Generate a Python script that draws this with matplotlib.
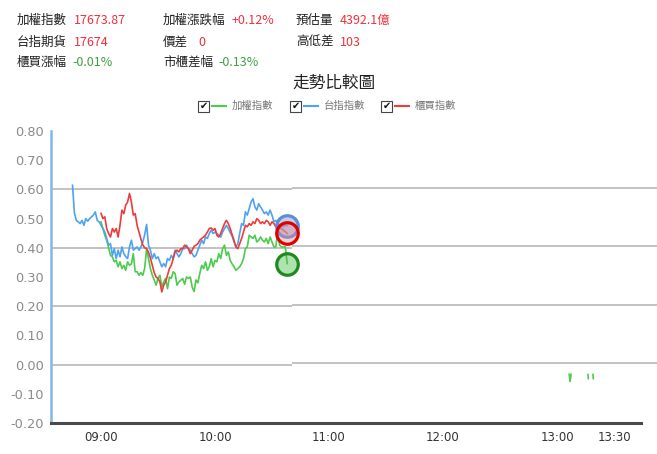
import numpy as np
import matplotlib
matplotlib.use("Agg")
import matplotlib.pyplot as plt
from matplotlib.lines import Line2D
from matplotlib.patches import Rectangle

plt.rcParams['font.family'] = ['Noto Sans CJK TC', 'DejaVu Sans']

# ---------------- data ----------------
header_names = ["加權指數", "加權漲跌幅", "預估量",
                "台指期貨", "價差", "高低差",
                "櫃買漲幅", "市櫃差幅"]
header_values = ["17673.87", "+0.12%", "4392.1億",
                 "17674", "0", "103",
                 "-0.01%", "-0.13%"]
header_value_kind = ["up", "up", "up", "up", "up", "up", "down", "down"]

title = "走勢比較圖"
legend_names = ["加權指數", "台指指數", "櫃買指數"]

xtick_labels = ["09:00", "10:00", "11:00", "12:00", "13:00", "13:30"]
ytick_values = [-0.2, -0.1, 0.0, 0.1, 0.2, 0.3, 0.4, 0.5, 0.6, 0.7, 0.8]

futures_start = "08:45"
futures_vals = [0.614, 0.52, 0.494, 0.489, 0.483, 0.494, 0.477, 0.500, 0.491, 0.500,
                0.506, 0.512, 0.523, 0.494, 0.489, 0.477, 0.466, 0.454, 0.432, 0.409,
                0.414, 0.374, 0.397, 0.363, 0.392, 0.369, 0.403, 0.380, 0.370, 0.363,
                0.403, 0.426, 0.392, 0.397, 0.403, 0.392, 0.403, 0.420, 0.445, 0.480,
                0.409, 0.392, 0.363, 0.380, 0.363, 0.369, 0.352, 0.335, 0.346, 0.335,
                0.363, 0.357, 0.374, 0.363, 0.392, 0.380, 0.369, 0.380, 0.397, 0.397,
                0.409, 0.397, 0.392, 0.380, 0.369, 0.374, 0.392, 0.409, 0.426, 0.414,
                0.437, 0.432, 0.449, 0.460, 0.449, 0.454, 0.449, 0.443, 0.437, 0.454,
                0.466, 0.477, 0.466, 0.452, 0.440, 0.420, 0.403, 0.414, 0.449, 0.483,
                0.477, 0.523, 0.512, 0.534, 0.557, 0.568, 0.540, 0.529, 0.551, 0.540,
                0.529, 0.517, 0.523, 0.512, 0.529, 0.512, 0.489, 0.494, 0.483, 0.466,
                0.477, 0.472, 0.477, 0.476]

otc_start = "09:00"
otc_vals = [0.518, 0.500, 0.506, 0.466, 0.449, 0.437, 0.466, 0.454, 0.466, 0.437,
            0.477, 0.529, 0.517, 0.546, 0.557, 0.586, 0.557, 0.512, 0.517, 0.477,
            0.454, 0.430, 0.410, 0.400, 0.397, 0.385, 0.365, 0.340, 0.315, 0.300,
            0.295, 0.283, 0.249, 0.272, 0.283, 0.306, 0.329, 0.340, 0.363, 0.386,
            0.392, 0.386, 0.397, 0.397, 0.409, 0.403, 0.397, 0.380, 0.392, 0.405,
            0.409, 0.414, 0.426, 0.432, 0.437, 0.443, 0.454, 0.466, 0.468, 0.460,
            0.466, 0.443, 0.437, 0.449, 0.466, 0.483, 0.494, 0.483, 0.466, 0.445,
            0.426, 0.403, 0.397, 0.414, 0.432, 0.454, 0.477, 0.472, 0.483, 0.477,
            0.489, 0.483, 0.500, 0.494, 0.483, 0.489, 0.483, 0.494, 0.489, 0.477,
            0.489, 0.483, 0.472, 0.466, 0.466, 0.466, 0.460, 0.455, 0.449]

twse_start = "09:00"
twse_vals = [0.489, 0.466, 0.443, 0.426, 0.400, 0.374, 0.369, 0.352, 0.357, 0.335,
             0.352, 0.329, 0.340, 0.323, 0.352, 0.340, 0.345, 0.380, 0.318, 0.318,
             0.306, 0.315, 0.306, 0.330, 0.397, 0.363, 0.329, 0.306, 0.290, 0.272,
             0.295, 0.306, 0.266, 0.283, 0.295, 0.260, 0.300, 0.295, 0.318, 0.312,
             0.272, 0.283, 0.289, 0.295, 0.275, 0.300, 0.295, 0.300, 0.265, 0.250,
             0.290, 0.280, 0.312, 0.340, 0.329, 0.352, 0.323, 0.335, 0.363, 0.335,
             0.357, 0.352, 0.380, 0.363, 0.397, 0.409, 0.374, 0.386, 0.357, 0.345,
             0.335, 0.323, 0.329, 0.335, 0.346, 0.363, 0.397, 0.403, 0.443, 0.437,
             0.432, 0.443, 0.420, 0.426, 0.437, 0.426, 0.420, 0.432, 0.414, 0.437,
             0.420, 0.403, 0.403, 0.454, 0.409, 0.403, 0.403, 0.403, 0.346]

# stray afternoon ticks of the TWSE line (minutes after 09:00, value)
twse_late_min = [246.4, 246.9, 247.4, np.nan, 256.3, 256.5, np.nan, 258.9, 259.1]
twse_late_vals = [-0.033, -0.058, -0.033, np.nan, -0.034, -0.048, np.nan, -0.034, -0.048]


def to_min(s):
    h, m = s.split(":")
    return (int(h) - 9) * 60 + int(m)


# ---------------- figure ----------------
W, H = 657, 454
fig = plt.figure(figsize=(W / 100, H / 100), dpi=100)
fig.patch.set_facecolor("white")


def fx(px):
    return px / W


def fy(py):
    return 1 - py / H


RED = "#f0303a"
GREEN = "#3f9e3f"
C_TWSE = "#4ccb4c"
C_FUT = "#4da3f0"
C_OTC = "#ee3b3b"

# header
name_pos = [(17, 20), (163, 20), (296, 20),
            (17, 42), (163, 42), (296, 42),
            (17, 62), (163, 62)]
value_pos = [(74, 20), (232, 20), (340, 20),
             (74, 42), (198, 42), (340, 42),
             (72, 62), (218, 62)]
for name, val, kind, (nx, ny), (vx, vy) in zip(header_names, header_values,
                                                header_value_kind, name_pos, value_pos):
    fig.text(fx(nx), fy(ny), name, ha="left", va="center", fontsize=9, color="#222222")
    fig.text(fx(vx), fy(vy), val, ha="left", va="center", fontsize=9,
             color=RED if kind == "up" else GREEN)

fig.text(fx(334), fy(83), title, ha="center", va="center", fontsize=12, color="#222222")

# legend
leg_colors = [C_TWSE, C_FUT, C_OTC]
box_x = [198, 290, 381]
ly = 106
for name, col, bx in zip(legend_names, leg_colors, box_x):
    fig.add_artist(Rectangle((fx(bx), fy(ly + 5.5)), fx(11), 11 / H,
                             transform=fig.transFigure, facecolor="white",
                             edgecolor="#444444", lw=0.8))
    fig.text(fx(bx + 5.5), fy(ly), "✔", ha="center", va="center", fontsize=7,
             color="#111111", family="DejaVu Sans")
    fig.add_artist(Line2D([fx(bx + 14), fx(bx + 28)], [fy(ly), fy(ly)],
                          transform=fig.transFigure, color=col, lw=1.5))
    fig.text(fx(bx + 34), fy(ly), name, ha="left", va="center", fontsize=7.5,
             color="#777777")

# axes
x_left_min = (51 - 101) * 60 / 114
x_right_min = (641 - 101) * 60 / 114
x_edge_min = (657 - 101) * 60 / 114
ax = fig.add_axes([fx(51), fy(423), fx(641 - 51), (423 - 131) / H])
ax.set_xlim(x_left_min, x_right_min)
ax.set_ylim(-0.2, 0.8)

# gridlines (slightly stepped after the last tick, as in the source)
step_min = (292 - 101) * 60 / 114
for gy in [0.0, 0.2, 0.4, 0.6]:
    ax.hlines(gy, x_left_min, step_min, color="#bdbdbd", lw=1.3, zorder=1)
    ax.hlines(gy + 0.0045, step_min, x_edge_min, color="#bdbdbd", lw=1.3,
              zorder=1, clip_on=False)

fut_x = to_min(futures_start) + np.arange(len(futures_vals))
otc_x = to_min(otc_start) + np.arange(len(otc_vals))
twse_x = to_min(twse_start) + np.arange(len(twse_vals))

ax.plot(twse_x, twse_vals, color=C_TWSE, lw=1.2, zorder=3)
ax.plot(fut_x, futures_vals, color=C_FUT, lw=1.2, zorder=3)
ax.plot(otc_x, otc_vals, color=C_OTC, lw=1.2, zorder=4)
ax.plot(twse_late_min, twse_late_vals, color=C_TWSE, lw=1.2, zorder=3)

# end markers
ax.plot(twse_x[-1], twse_vals[-1], "o", ms=15.5, mew=2.3,
        mec="#1f8a1f", mfc=(0.3, 0.75, 0.3, 0.45), zorder=5)
ax.plot(fut_x[-1], futures_vals[-1], "o", ms=15.5, mew=2.3,
        mec="#5b8ed8", mfc=(0.55, 0.62, 0.8, 0.5), zorder=5)
ax.plot(otc_x[-1], otc_vals[-1], "o", ms=15.5, mew=2.3,
        mec="#e00000", mfc=(0.9, 0.55, 0.6, 0.4), zorder=6)

# ticks
ax.set_xticks([to_min(t) for t in xtick_labels])
ax.set_xticklabels(xtick_labels, fontsize=8.5, color="#333333", family="DejaVu Sans")
ax.set_yticks(ytick_values)
ax.set_yticklabels([f"{v:.2f}" for v in ytick_values], fontsize=9.3,
                   color="#8a8a8a", family="DejaVu Sans")
ax.tick_params(axis="both", length=0)
ax.tick_params(axis="x", pad=6)
ax.tick_params(axis="y", pad=5)

for s in ["top", "right"]:
    ax.spines[s].set_visible(False)
ax.spines["left"].set_color("#7fb8ea")
ax.spines["left"].set_linewidth(1.8)
ax.spines["bottom"].set_color("#4a4a4a")
ax.spines["bottom"].set_linewidth(2.2)
ax.set_facecolor("white")

fig.savefig("out.png", dpi=100)
